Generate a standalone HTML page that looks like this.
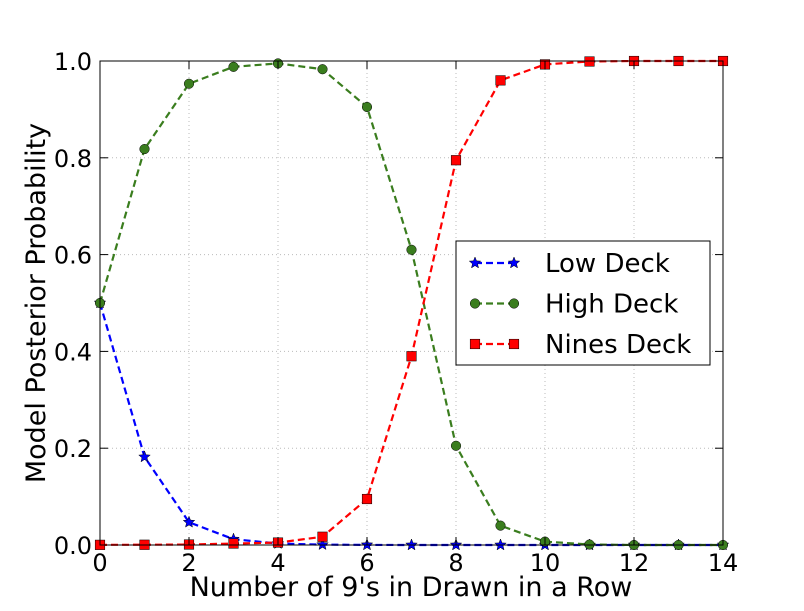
<!DOCTYPE html>
<html><head><meta charset="utf-8"><style>
body{margin:0;background:#fff;}
svg text{font-family:"DejaVu Sans","Liberation Sans",sans-serif;fill:#000;}
</style></head><body>
<svg id="chart" width="804" height="606" xmlns="http://www.w3.org/2000/svg">
<g id="grid"></g>
<g id="series"></g>
<rect x="100" y="61" width="623" height="484" fill="none" stroke="#000" stroke-width="1"/>
<g id="ticks"></g>
<text x="411" y="596" font-size="27" text-anchor="middle">Number of 9's in Drawn in a Row</text>
<text transform="translate(45,303) rotate(-90)" font-size="27" text-anchor="middle">Model Posterior Probability</text>
<g>
<rect x="456" y="241" width="254" height="124" fill="#fff" stroke="#000" stroke-width="1"/>
<g id="legend-items"></g>
</g>
</svg>
<script>
const xs=[0,1,2,3,4,5,6,7,8,9,10,11,12,13,14];
const lowDeck=[0.5,0.182,0.047,0.012,0.003,0.0007,0.0002,0,0,0,0,0,0,0,0];
const highDeck=[0.5,0.818,0.953,0.988,0.995,0.983,0.905,0.61,0.205,0.04,0.007,0.001,0,0,0];
const ninesDeck=[0.0003,0.0005,0.001,0.003,0.005,0.017,0.095,0.39,0.795,0.96,0.993,0.999,1,1,1];
const xTicks=[0,2,4,6,8,10,12,14];
const yTicks=[0,0.2,0.4,0.6,0.8,1.0];
const seriesNames=["Low Deck","High Deck","Nines Deck"];
const NS="http://www.w3.org/2000/svg";
const X=v=>100+v*623/14, Y=v=>545-v*484;
function mk(t,a,p){const e=document.createElementNS(NS,t);for(const k in a)e.setAttribute(k,a[k]);p.appendChild(e);return e;}
const grid=document.getElementById('grid'),ticks=document.getElementById('ticks'),ser=document.getElementById('series'),leg=document.getElementById('legend-items');
xTicks.forEach(v=>{
 const l=mk('line',{x1:X(v),x2:X(v),y1:61,y2:545,stroke:'#bbb','stroke-dasharray':'1,3'},grid);
 
 
 mk('line',{x1:X(v),x2:X(v),y1:545,y2:537,stroke:'#000'},ticks);
 mk('line',{x1:X(v),x2:X(v),y1:61,y2:69,stroke:'#000'},ticks);
 const t=mk('text',{x:X(v),y:571,'font-size':24,'text-anchor':'middle'},ticks);t.textContent=v;
 
 
});
yTicks.forEach(v=>{
 const l=mk('line',{x1:100,x2:723,y1:Y(v),y2:Y(v),stroke:'#bbb','stroke-dasharray':'1,3'},grid);
 
 
 mk('line',{x1:100,x2:108,y1:Y(v),y2:Y(v),stroke:'#000'},ticks);
 mk('line',{x1:723,x2:715,y1:Y(v),y2:Y(v),stroke:'#000'},ticks);
 const t=mk('text',{x:92,y:Y(v)+9,'font-size':24,'text-anchor':'end'},ticks);t.textContent=v.toFixed(1);
 
 
});
function marker(type,x,y,color,p){
 if(type==='star'){let pts=[];for(let i=0;i<10;i++){const r=i%2?2.6:6,a=-Math.PI/2+i*Math.PI/5;pts.push((x+r*Math.cos(a)).toFixed(1)+','+(y+r*Math.sin(a)).toFixed(1));}
  return mk('polygon',{points:pts.join(' '),fill:color,stroke:'#000','stroke-width':0.5},p);}
 if(type==='circle')return mk('circle',{cx:x,cy:y,r:4.8,fill:color,stroke:'#000','stroke-width':0.5},p);
 return mk('rect',{x:x-4.8,y:y-4.8,width:9.6,height:9.6,fill:color,stroke:'#000','stroke-width':0.5},p);
}
const defs=[[lowDeck,'#0000ff','star'],[highDeck,'#3a7d1e','circle'],[ninesDeck,'#ff0000','square']];
defs.forEach(([d,c,m],si)=>{
 const g=mk('g',{},ser);
 
 
 mk('polyline',{points:xs.map((x,i)=>X(x)+','+Y(d[i])).join(' '),fill:'none',stroke:c,'stroke-width':2.2,'stroke-dasharray':'7,4'},g);
 xs.forEach((x,i)=>{const e=marker(m,X(x),Y(d[i]),c,g);
  
  });
 const ly=263+si*40.5;
 const lg=mk('g',{},leg);
 
 
 mk('line',{x1:475,x2:514,y1:ly,y2:ly,stroke:c,'stroke-width':2.2,'stroke-dasharray':'7,4'},lg);
 marker(m,475,ly,c,lg);marker(m,514,ly,c,lg);
 const t=mk('text',{x:545,y:ly+9,'font-size':26},lg);t.textContent=seriesNames[si];
});
</script>
</body></html>
